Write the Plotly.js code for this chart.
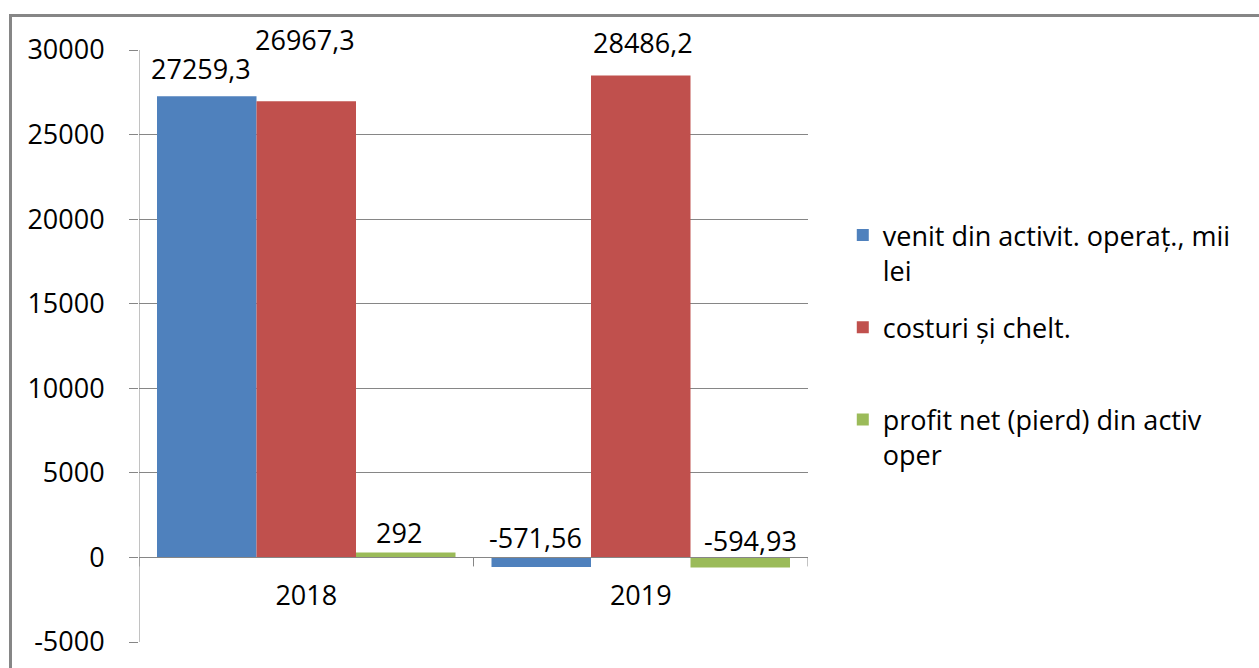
<!DOCTYPE html>
<html>
<head>
<meta charset="utf-8">
<script src="https://cdn.plot.ly/plotly-3.0.1.min.js"></script>
<style>
html,body{margin:0;padding:0;background:#fff;overflow:hidden;}
#chart{width:1259px;height:668px;position:absolute;left:0;top:0;}
#frame{position:absolute;left:9px;top:14px;width:1300px;height:700px;border:3px solid #868686;pointer-events:none;}
</style>
</head>
<body>
<div id="chart"></div>
<div id="frame"></div>
<script>
const categories = ["2018", "2019"];
const seriesNames = ["venit din activit. operaț., mii<br>lei", "costuri și chelt.<br> ", "profit net (pierd) din activ<br>oper"];
const venit = [27259.3, -571.56];
const costuri = [26967.3, 28486.2];
const profit = [292, -594.93];
const labelTexts = [["27259,3", "-571,56"], ["26967,3", "28486,2"], ["292", "-594,93"]];
const yTicks = [-5000, 0, 5000, 10000, 15000, 20000, 25000, 30000];

const colors = ["#4F81BD", "#C0504D", "#9BBB59"];
const values = [venit, costuri, profit];
// label placement style (pixel offsets above bar end / zero line)
const labelShiftY = [[28, 20], [62, 33], [20, 17]];
const labelShiftX = [[-6, -6], [-1, 2], [-7, 10]];

const FONT = "Open Sans";
const FS = 27;
const bargap = 0.1076;
const barW = (1 - bargap) / 3;
const yRange = [yTicks[0], yTicks[yTicks.length - 1]];
const plotH = 668 - 50 - 26;
const tickDown = 9 * (yRange[1] - yRange[0]) / plotH;

const xIdx = categories.map((c, i) => i);
const traces = values.map((v, s) => ({
  type: "bar",
  x: xIdx,
  y: v,
  name: seriesNames[s],
  legendgroup: "g" + s,
  marker: {color: colors[s], line: {width: 0}},
  hoverinfo: "y"
}));

const annotations = [];
values.forEach((v, s) => {
  v.forEach((val, i) => {
    annotations.push({
      x: i + (s - 1) * barW,
      y: Math.max(val, 0),
      xref: "x", yref: "y",
      text: labelTexts[s][i],
      showarrow: false,
      xanchor: "center", yanchor: "middle",
      xshift: labelShiftX[s][i],
      yshift: labelShiftY[s][i],
      font: {family: FONT, size: FS, color: "#000"}
    });
  });
});

const bounds = [-0.5, 0.5, 1.5];
const shapes = bounds.map(b => ({
  type: "line", xref: "x", yref: "y",
  x0: b, x1: b, y0: 0, y1: -tickDown,
  line: {color: "#868686", width: 1}
}));
// value axis line
shapes.push({
  type: "line", xref: "x", yref: "y",
  x0: bounds[0], x1: bounds[0], y0: yRange[0], y1: yRange[1],
  line: {color: "#868686", width: 1}
});

const layout = {
  width: 1259, height: 668,
  margin: {l: 139, r: 451, t: 50, b: 26, pad: 0},
  paper_bgcolor: "#fff", plot_bgcolor: "#fff",
  barmode: "group",
  bargap: bargap,
  bargroupgap: 0,
  showlegend: true,
  font: {family: FONT, size: FS, color: "#000"},
  xaxis: {
    type: "linear",
    range: [-0.5, 1.5],
    tickvals: xIdx,
    ticktext: categories,
    anchor: "free",
    position: 1 / 7,
    showline: true, linecolor: "#868686", linewidth: 1,
    showgrid: false, zeroline: false,
    ticks: "",
    tickfont: {family: FONT, size: FS, color: "#000"},
    ticklabelstandoff: 14
  },
  yaxis: {
    range: yRange,
    tickvals: yTicks,
    ticktext: yTicks.map(String),
    showline: false,
    showgrid: true, gridcolor: "#868686", gridwidth: 1,
    zeroline: false,
    ticks: "outside", ticklen: 9, tickcolor: "#868686",
    tickfont: {family: FONT, size: FS, color: "#000"},
    ticklabelstandoff: 19
  },
  legend: {
    x: 1.052, xanchor: "left",
    y: 0.728, yanchor: "top",
    traceorder: "grouped",
    tracegroupgap: 19,
    valign: "top",
    bgcolor: "rgba(0,0,0,0)",
    font: {family: FONT, size: FS, color: "#000"}
  },
  shapes: shapes,
  annotations: annotations
};

Plotly.newPlot("chart", traces, layout, {displayModeBar: false, staticPlot: true});
</script>
</body>
</html>
